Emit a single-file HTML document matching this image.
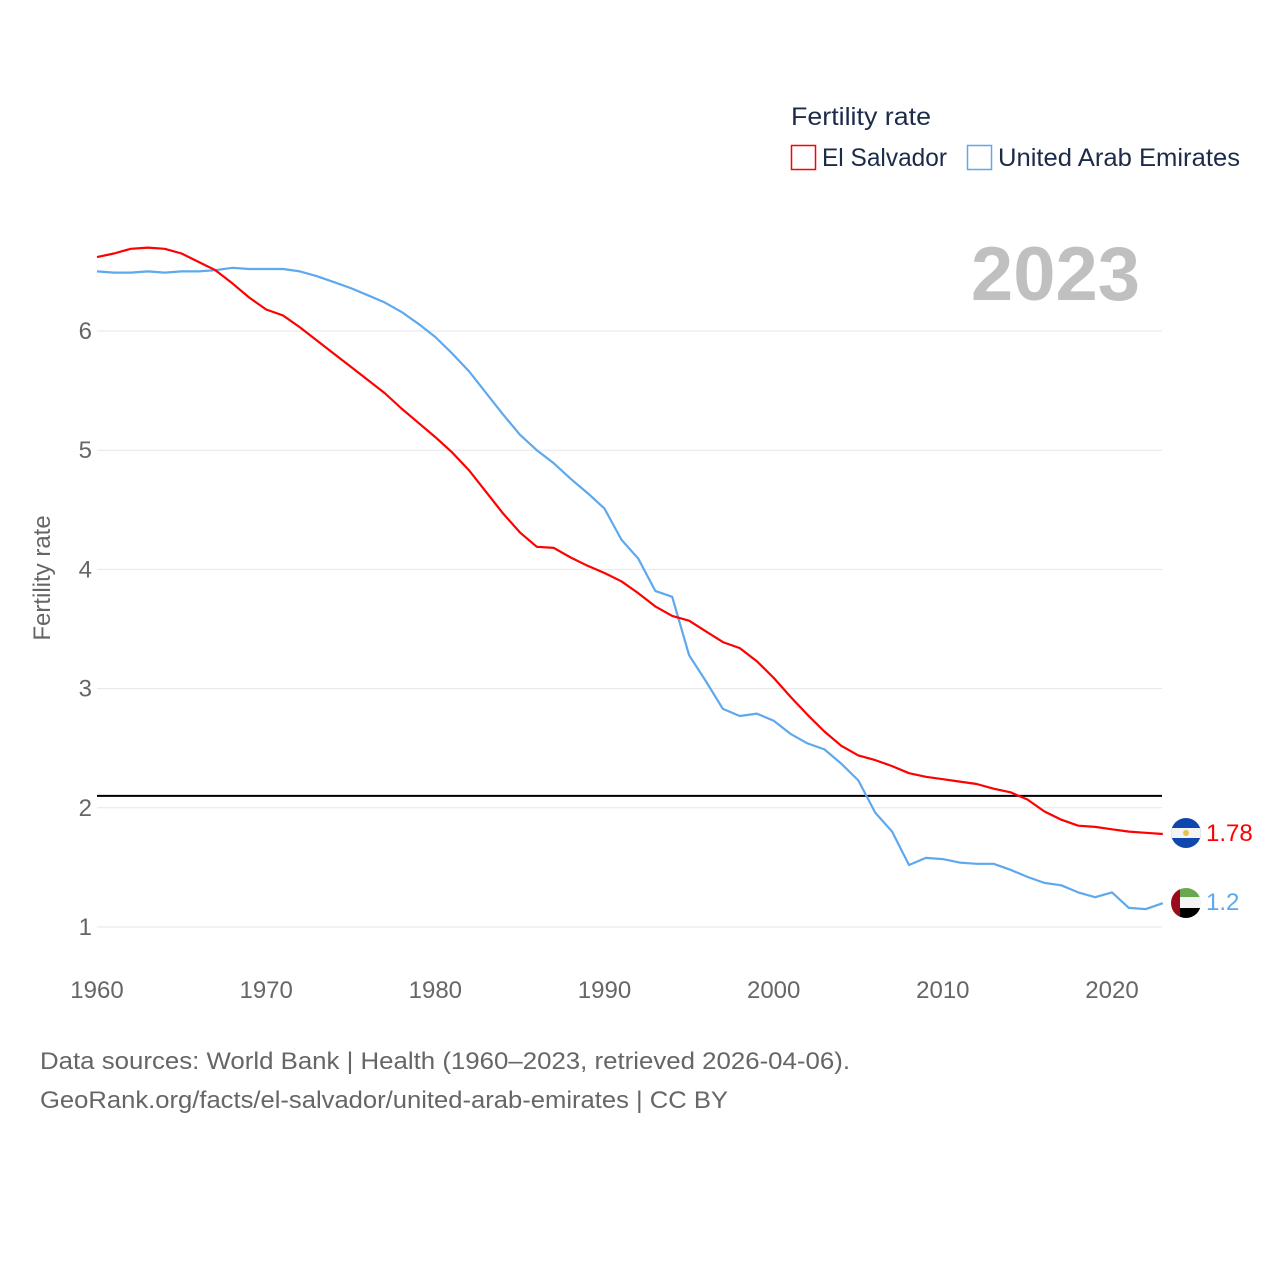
<!DOCTYPE html>
<html><head><meta charset="utf-8">
<style>
body{margin:0;background:#fff;width:1280px;height:1280px;overflow:hidden;font-family:"Liberation Sans",sans-serif;}
svg{display:block}
</style></head>
<body>
<svg id="chart" width="1280" height="1280" viewBox="0 0 1280 1280" xmlns="http://www.w3.org/2000/svg">
<defs>
<clipPath id="c1"><circle cx="1186" cy="833" r="15"/></clipPath>
<clipPath id="c2"><circle cx="1186" cy="903" r="15"/></clipPath>
</defs>
<g id="grid"></g>
<g id="lines"></g>
<text x="791" y="125" font-size="25" fill="#1c2b4a" textLength="140" lengthAdjust="spacingAndGlyphs">Fertility rate</text>
<rect x="791.5" y="145.5" width="24" height="24" fill="#fff" stroke="#ff0000" stroke-width="1.5"/>
<text x="822" y="166" font-size="25" fill="#1c2b4a" textLength="125" lengthAdjust="spacingAndGlyphs">El Salvador</text>
<rect x="967.5" y="145.5" width="24" height="24" fill="#fff" stroke="#5ea8ee" stroke-width="1.5"/>
<text x="998" y="166" font-size="25" fill="#1c2b4a" textLength="242" lengthAdjust="spacingAndGlyphs">United Arab Emirates</text>
<text x="1140" y="300" font-size="76" font-weight="bold" fill="#c0c0c0" text-anchor="end">2023</text>
<text transform="translate(50,578) rotate(-90)" font-size="24" fill="#666" text-anchor="middle">Fertility rate</text>
<g clip-path="url(#c1)">
<rect x="1170" y="817" width="32" height="32" fill="#0f47af"/>
<rect x="1170" y="828" width="32" height="10" fill="#f4f4f4"/>
<circle cx="1186" cy="833" r="3" fill="#e8c34a"/>
</g>
<g clip-path="url(#c2)">
<rect x="1170" y="887" width="32" height="11" fill="#6aa84f"/>
<rect x="1170" y="897" width="32" height="11" fill="#f4f4f4"/>
<rect x="1170" y="908" width="32" height="11" fill="#000"/>
<rect x="1170" y="887" width="10" height="32" fill="#9b0a1e"/>
</g>
<text x="1206" y="841" font-size="24" fill="#ff0000">1.78</text>
<text x="1206" y="910" font-size="24" fill="#5ea8ee">1.2</text>
<text x="40" y="1069" font-size="24" fill="#666" textLength="810" lengthAdjust="spacingAndGlyphs">Data sources: World Bank | Health (1960–2023, retrieved 2026-04-06).</text>
<text x="40" y="1108" font-size="24" fill="#666" textLength="688" lengthAdjust="spacingAndGlyphs">GeoRank.org/facts/el-salvador/united-arab-emirates | CC BY</text>
</svg>
<script>
const years = [];
for (let y = 1960; y <= 2023; y++) years.push(y);
const elSalvador = [6.62,6.65,6.69,6.70,6.69,6.65,6.58,6.51,6.40,6.28,6.18,6.13,6.03,5.92,5.81,5.70,5.59,5.48,5.35,5.23,5.11,4.98,4.83,4.65,4.47,4.31,4.19,4.18,4.10,4.03,3.97,3.90,3.80,3.69,3.61,3.57,3.48,3.39,3.34,3.23,3.09,2.93,2.78,2.64,2.52,2.44,2.40,2.35,2.29,2.26,2.24,2.22,2.20,2.16,2.13,2.07,1.97,1.90,1.85,1.84,1.82,1.80,1.79,1.78];
const uae = [6.50,6.49,6.49,6.50,6.49,6.50,6.50,6.51,6.53,6.52,6.52,6.52,6.50,6.46,6.41,6.36,6.30,6.24,6.16,6.06,5.95,5.81,5.66,5.48,5.30,5.13,5.00,4.89,4.76,4.64,4.51,4.25,4.09,3.82,3.77,3.28,3.06,2.83,2.77,2.79,2.73,2.62,2.54,2.49,2.37,2.23,1.96,1.80,1.52,1.58,1.57,1.54,1.53,1.53,1.48,1.42,1.37,1.35,1.29,1.25,1.29,1.16,1.15,1.20];
const yTicks = [1,2,3,4,5,6];
const xTicks = [1960,1970,1980,1990,2000,2010,2020];
const replacement = [2.1];

const NS = "http://www.w3.org/2000/svg";
const X0 = 97, X1 = 1162;
function xs(yr){ return X0 + (yr - 1960) * (1112 - 97) / 60; }
function ys(v){ return 927 - (v - 1) * 119.2; }
const grid = document.getElementById('grid');
const lines = document.getElementById('lines');
function mk(tag, attrs, parent){ const e = document.createElementNS(NS, tag); for (const k in attrs) e.setAttribute(k, attrs[k]); parent.appendChild(e); return e; }

yTicks.forEach(t => {
  const l = mk('line', {x1:X0, x2:X1, y1:ys(t), y2:ys(t), stroke:'#e6e6e6', 'stroke-width':1}, grid);
  
  
  const tx = mk('text', {x:92, y:ys(t)+8, 'font-size':24, fill:'#666', 'text-anchor':'end'}, grid);
  tx.textContent = t;
  
  
});
xTicks.forEach(t => {
  const tx = mk('text', {x:xs(t), y:998, 'font-size':24, fill:'#666', 'text-anchor':'middle'}, grid);
  tx.textContent = t;
  
  
});
replacement.forEach(v => {
  const l = mk('line', {x1:X0, x2:X1, y1:ys(v), y2:ys(v), stroke:'#000', 'stroke-width':2}, lines);
  
  
});
function series(vals, color, name){
  const d = vals.map((v,i) => (i ? 'L' : 'M') + xs(years[i]).toFixed(1) + ',' + ys(v).toFixed(1)).join(' ');
  const p = mk('path', {d:d, fill:'none', stroke:color, 'stroke-width':2.2, 'stroke-linejoin':'round'}, lines);
  
  
}
series(uae, '#5ea8ee', 'line-uae');
series(elSalvador, '#ff0000', 'line-el-salvador');
</script>
</body></html>
